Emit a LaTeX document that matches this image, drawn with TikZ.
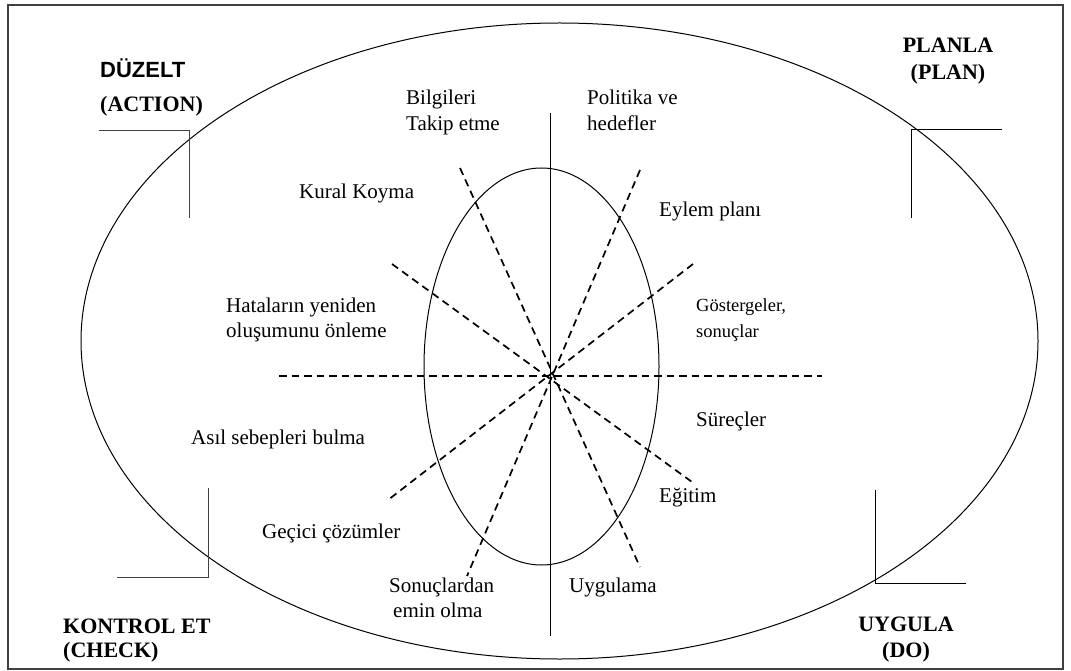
\documentclass[tikz,border=0pt]{standalone}
\usepackage{fontspec}
\setmainfont{Liberation Serif}
\newfontfamily\headsans{Liberation Sans}
\begin{document}
\begin{tikzpicture}[x=1pt,y=-1pt,
  lbl/.style={inner sep=0pt, anchor=base west, font=\fontsize{21}{26}\selectfont},
  small/.style={inner sep=0pt, anchor=base west, font=\fontsize{18.5}{24}\selectfont},
  head/.style={inner sep=0pt, anchor=base west, font=\fontsize{22}{26}\selectfont\bfseries},
  headc/.style={head, anchor=base},
  ray/.style={dash pattern=on 7.5pt off 5pt, line width=1.7pt},
  thinline/.style={line width=1pt},
  bracket/.style={line width=0.9pt}]
\useasboundingbox (0,0) rectangle (1071,671);

% frame
\draw[line width=1.3pt, black!75] (8,5) rectangle (1063,669);

% outer and inner ellipses
\draw[thinline] (559.5,341) ellipse [x radius=478.5, y radius=318];
\draw[thinline] (541.5,366.5) ellipse [x radius=117.5, y radius=198.5];

% axis and rays
\coordinate (axT) at (550,113);
\coordinate (axB) at (550,636);
\draw[thinline] (axT) -- (axB);

\coordinate (hL) at (279,376);   \coordinate (hR) at (822,376);
\coordinate (s1a) at (460,168);  \coordinate (s1b) at (640,567);
\coordinate (s2a) at (640,170);  \coordinate (s2b) at (467,576);
\coordinate (f1a) at (392,264);  \coordinate (f1b) at (692,482);
\coordinate (f2a) at (693,264);  \coordinate (f2b) at (388,500);
\draw[ray] (hL) -- (hR);
\draw[ray] (s1a) -- (s1b);
\draw[ray] (s2a) -- (s2b);
\draw[ray] (f1a) -- (f1b);
\draw[ray] (f2a) -- (f2b);

% corner brackets
\coordinate (tlA) at (99,130);  \coordinate (tlC) at (189,130); \coordinate (tlB) at (189,218);
\coordinate (trA) at (1002,129); \coordinate (trC) at (911,129); \coordinate (trB) at (911,218);
\coordinate (blA) at (208,488); \coordinate (blC) at (208,577); \coordinate (blB) at (117,577);
\coordinate (brA) at (875,490); \coordinate (brC) at (875,583); \coordinate (brB) at (966,583);
\draw[bracket, black!75] (tlA) -- (tlC) -- (tlB);
\draw[bracket] (trA) -- (trC) -- (trB);
\draw[bracket, black!75] (blA) -- (blC) -- (blB);
\draw[bracket] (brA) -- (brC) -- (brB);

% quadrant headings
\node[head, font=\fontsize{22}{26}\selectfont\headsans\bfseries] (duz) at (100,78) {DÜZELT};
\node[head] (act) at (100,112) {(ACTION)};
\node[headc] (pla) at (948,53) {PLANLA};
\node[headc] (plan) at (948,80) {(PLAN)};
\node[head] (kon) at (63,633) {KONTROL ET};
\node[head] (chk) at (63,657) {(CHECK)};
\node[headc] (uyg) at (906,631) {UYGULA};
\node[headc] (do) at (906,657) {(DO)};

% step labels
\node[lbl] (bil1) at (406,105) {Bilgileri};
\node[lbl] (bil2) at (406,131) {Takip etme};
\node[lbl] (pol1) at (587,105) {Politika ve};
\node[lbl] (pol2) at (587,131) {hedefler};
\node[lbl] (kur) at (299,199) {Kural Koyma};
\node[lbl] (eyl) at (659,217) {Eylem planı};
\node[lbl] (hat1) at (226,312) {Hataların yeniden};
\node[lbl] (hat2) at (226,337) {oluşumunu önleme};
\node[small] (gos1) at (696,311) {Göstergeler,};
\node[small] (gos2) at (696,337) {sonuçlar};
\node[lbl] (sur) at (696,426) {Süreçler};
\node[lbl] (asl) at (191,444) {Asıl sebepleri bulma};
\node[lbl] (egi) at (659,502) {Eğitim};
\node[lbl] (gec) at (262,538) {Geçici çözümler};
\node[lbl] (son1) at (389,592) {Sonuçlardan};
\node[lbl] (son2) at (393,617) {emin olma};
\node[lbl] (uyl) at (569,592) {Uygulama};
\end{tikzpicture}
\end{document}
